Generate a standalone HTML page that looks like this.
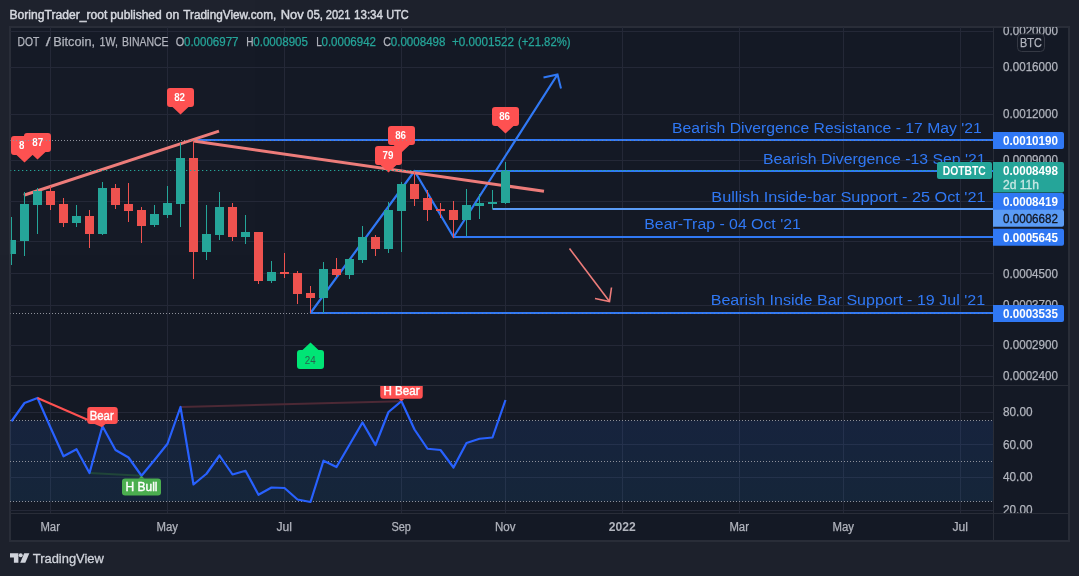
<!DOCTYPE html>
<html><head><meta charset="utf-8"><title>DOT / Bitcoin chart</title>
<style>html,body{margin:0;padding:0;background:#1e222d;}body{width:1079px;height:576px;overflow:hidden;font-family:"Liberation Sans",sans-serif;}svg{display:block;will-change:transform;opacity:0.999;}text{font-family:"Liberation Sans",sans-serif;}</style>
</head><body>
<svg width="1079" height="576" viewBox="0 0 1079 576">
<rect x="0" y="0" width="1079" height="576" fill="#1e222d"/>
<rect x="10" y="27" width="1059" height="514" fill="#151a26" stroke="#2a2e39" stroke-width="2"/>
<defs><clipPath id="cm"><rect x="10.5" y="28" width="983" height="357"/></clipPath><clipPath id="cr"><rect x="10.5" y="386" width="983" height="127"/></clipPath><clipPath id="ca"><rect x="993" y="27" width="75" height="486"/></clipPath></defs>
<line x1="50.5" y1="27" x2="50.5" y2="513" stroke="#252938" stroke-width="1"/>
<line x1="167.5" y1="27" x2="167.5" y2="513" stroke="#252938" stroke-width="1"/>
<line x1="284.5" y1="27" x2="284.5" y2="513" stroke="#252938" stroke-width="1"/>
<line x1="401.5" y1="27" x2="401.5" y2="513" stroke="#252938" stroke-width="1"/>
<line x1="505.5" y1="27" x2="505.5" y2="513" stroke="#252938" stroke-width="1"/>
<line x1="622.5" y1="27" x2="622.5" y2="513" stroke="#252938" stroke-width="1"/>
<line x1="739.5" y1="27" x2="739.5" y2="513" stroke="#252938" stroke-width="1"/>
<line x1="843.5" y1="27" x2="843.5" y2="513" stroke="#252938" stroke-width="1"/>
<line x1="960.5" y1="27" x2="960.5" y2="513" stroke="#252938" stroke-width="1"/>
<line x1="10" y1="31.5" x2="993.5" y2="31.5" stroke="#252938" stroke-width="1"/>
<line x1="10" y1="67.5" x2="993.5" y2="67.5" stroke="#252938" stroke-width="1"/>
<line x1="10" y1="114.5" x2="993.5" y2="114.5" stroke="#252938" stroke-width="1"/>
<line x1="10" y1="160.5" x2="993.5" y2="160.5" stroke="#252938" stroke-width="1"/>
<line x1="10" y1="201.5" x2="993.5" y2="201.5" stroke="#252938" stroke-width="1"/>
<line x1="10" y1="241.5" x2="993.5" y2="241.5" stroke="#252938" stroke-width="1"/>
<line x1="10" y1="273.5" x2="993.5" y2="273.5" stroke="#252938" stroke-width="1"/>
<line x1="10" y1="305.5" x2="993.5" y2="305.5" stroke="#252938" stroke-width="1"/>
<line x1="10" y1="345.5" x2="993.5" y2="345.5" stroke="#252938" stroke-width="1"/>
<line x1="10" y1="376.5" x2="993.5" y2="376.5" stroke="#252938" stroke-width="1"/>
<line x1="10" y1="412.5" x2="993.5" y2="412.5" stroke="#252938" stroke-width="1"/>
<line x1="10" y1="444.5" x2="993.5" y2="444.5" stroke="#252938" stroke-width="1"/>
<line x1="10" y1="477.5" x2="993.5" y2="477.5" stroke="#252938" stroke-width="1"/>
<line x1="10" y1="510.5" x2="993.5" y2="510.5" stroke="#252938" stroke-width="1"/>
<defs><linearGradient id="rb" x1="0" y1="0" x2="0" y2="1"><stop offset="0" stop-color="#2a6ef5" stop-opacity="0.118"/><stop offset="1" stop-color="#2196f3" stop-opacity="0.10"/></linearGradient></defs>
<rect x="10" y="420.5" width="983.5" height="81" fill="url(#rb)"/>
<line x1="10" y1="420.5" x2="993.5" y2="420.5" stroke="#8f929c" stroke-width="1" stroke-dasharray="1,2"/>
<line x1="10" y1="461.5" x2="993.5" y2="461.5" stroke="#8f929c" stroke-width="1" stroke-dasharray="1,2"/>
<line x1="10" y1="501.5" x2="993.5" y2="501.5" stroke="#8f929c" stroke-width="1" stroke-dasharray="1,2"/>
<line x1="10" y1="385.5" x2="1068" y2="385.5" stroke="#2a2e39" stroke-width="1"/>
<line x1="10" y1="513.5" x2="1068" y2="513.5" stroke="#2a2e39" stroke-width="1"/>
<line x1="993.5" y1="27" x2="993.5" y2="540" stroke="#2a2e39" stroke-width="1"/>
<g clip-path="url(#cm)">
<line x1="194" y1="140" x2="993.5" y2="140" stroke="#3179f5" stroke-width="2"/>
<line x1="414.5" y1="171" x2="993.5" y2="171" stroke="#3179f5" stroke-width="2"/>
<line x1="492.5" y1="209" x2="993.5" y2="209" stroke="#5b9cf6" stroke-width="2"/>
<line x1="453.5" y1="237" x2="993.5" y2="237" stroke="#3179f5" stroke-width="2"/>
<line x1="310.5" y1="313" x2="993.5" y2="313" stroke="#3179f5" stroke-width="2"/>
<polyline points="310.5,313 414.5,171 453.5,237 557.5,74.5" fill="none" stroke="#3179f5" stroke-width="2.2" stroke-linejoin="round"/>
<polyline points="543.5,77.5 557.5,74.5 561,88.5" fill="none" stroke="#3179f5" stroke-width="2" stroke-linejoin="miter"/>
<line x1="23.8" y1="195.2" x2="219" y2="131.1" stroke="#ee7d7b" stroke-width="3"/>
<line x1="193.5" y1="141" x2="544" y2="191.3" stroke="#ee7d7b" stroke-width="3"/>
<line x1="569.5" y1="248.5" x2="609.5" y2="301.5" stroke="#ee7d7b" stroke-width="1.6"/>
<polyline points="595,298.5 609.5,301.5 611.5,287.5" fill="none" stroke="#ee7d7b" stroke-width="1.6"/>
<rect x="11.0" y="217" width="1" height="48" fill="#26a69a"/>
<rect x="7.0" y="240" width="9" height="14" fill="#26a69a"/>
<rect x="24.0" y="192" width="1" height="64" fill="#26a69a"/>
<rect x="20.0" y="204" width="9" height="37" fill="#26a69a"/>
<rect x="37.0" y="188" width="1" height="46" fill="#26a69a"/>
<rect x="33.0" y="191" width="9" height="14" fill="#26a69a"/>
<rect x="50.0" y="186" width="1" height="24" fill="#ef5350"/>
<rect x="46.0" y="191" width="9" height="14" fill="#ef5350"/>
<rect x="63.0" y="198" width="1" height="29" fill="#ef5350"/>
<rect x="59.0" y="204" width="9" height="19" fill="#ef5350"/>
<rect x="76.0" y="205" width="1" height="22" fill="#26a69a"/>
<rect x="72.0" y="216" width="9" height="7" fill="#26a69a"/>
<rect x="89.0" y="210" width="1" height="38" fill="#ef5350"/>
<rect x="85.0" y="216" width="9" height="18" fill="#ef5350"/>
<rect x="102.0" y="182" width="1" height="53" fill="#26a69a"/>
<rect x="98.0" y="188" width="9" height="46" fill="#26a69a"/>
<rect x="115.0" y="184" width="1" height="25" fill="#ef5350"/>
<rect x="111.0" y="188" width="9" height="17" fill="#ef5350"/>
<rect x="128.0" y="183" width="1" height="39" fill="#ef5350"/>
<rect x="124.0" y="204" width="9" height="7" fill="#ef5350"/>
<rect x="141.0" y="207" width="1" height="36" fill="#ef5350"/>
<rect x="137.0" y="210" width="9" height="16" fill="#ef5350"/>
<rect x="154.0" y="205" width="1" height="22" fill="#26a69a"/>
<rect x="150.0" y="214" width="9" height="11" fill="#26a69a"/>
<rect x="167.0" y="186" width="1" height="32" fill="#26a69a"/>
<rect x="163.0" y="203" width="9" height="12" fill="#26a69a"/>
<rect x="180.0" y="143" width="1" height="84" fill="#26a69a"/>
<rect x="176.0" y="158" width="9" height="46" fill="#26a69a"/>
<rect x="193.0" y="141" width="1" height="138" fill="#ef5350"/>
<rect x="189.0" y="158" width="9" height="94" fill="#ef5350"/>
<rect x="206.0" y="205" width="1" height="55" fill="#26a69a"/>
<rect x="202.0" y="234" width="9" height="18" fill="#26a69a"/>
<rect x="219.0" y="192" width="1" height="48" fill="#26a69a"/>
<rect x="215.0" y="207" width="9" height="28" fill="#26a69a"/>
<rect x="232.0" y="203" width="1" height="38" fill="#ef5350"/>
<rect x="228.0" y="207" width="9" height="30" fill="#ef5350"/>
<rect x="245.0" y="215" width="1" height="29" fill="#26a69a"/>
<rect x="241.0" y="232" width="9" height="5" fill="#26a69a"/>
<rect x="258.0" y="232" width="1" height="52" fill="#ef5350"/>
<rect x="254.0" y="232" width="9" height="49" fill="#ef5350"/>
<rect x="271.0" y="261" width="1" height="22" fill="#26a69a"/>
<rect x="267.0" y="272" width="9" height="9" fill="#26a69a"/>
<rect x="284.0" y="253" width="1" height="25" fill="#ef5350"/>
<rect x="280.0" y="272" width="9" height="2" fill="#ef5350"/>
<rect x="297.0" y="271" width="1" height="33" fill="#ef5350"/>
<rect x="293.0" y="273" width="9" height="21" fill="#ef5350"/>
<rect x="310.0" y="286" width="1" height="27" fill="#ef5350"/>
<rect x="306.0" y="293" width="9" height="5" fill="#ef5350"/>
<rect x="323.0" y="262" width="1" height="51" fill="#26a69a"/>
<rect x="319.0" y="269" width="9" height="29" fill="#26a69a"/>
<rect x="336.0" y="258" width="1" height="19" fill="#ef5350"/>
<rect x="332.0" y="269" width="9" height="6" fill="#ef5350"/>
<rect x="349.0" y="258" width="1" height="21" fill="#26a69a"/>
<rect x="345.0" y="259" width="9" height="16" fill="#26a69a"/>
<rect x="362.0" y="226" width="1" height="37" fill="#26a69a"/>
<rect x="358.0" y="237" width="9" height="23" fill="#26a69a"/>
<rect x="375.0" y="235" width="1" height="21" fill="#ef5350"/>
<rect x="371.0" y="237" width="9" height="12" fill="#ef5350"/>
<rect x="388.0" y="202" width="1" height="51" fill="#26a69a"/>
<rect x="384.0" y="210" width="9" height="39" fill="#26a69a"/>
<rect x="401.0" y="182" width="1" height="70" fill="#26a69a"/>
<rect x="397.0" y="184" width="9" height="27" fill="#26a69a"/>
<rect x="414.0" y="172" width="1" height="34" fill="#ef5350"/>
<rect x="410.0" y="184" width="9" height="15" fill="#ef5350"/>
<rect x="427.0" y="190" width="1" height="31" fill="#ef5350"/>
<rect x="423.0" y="198" width="9" height="12" fill="#ef5350"/>
<rect x="440.0" y="203" width="1" height="15" fill="#ef5350"/>
<rect x="436.0" y="209" width="9" height="2" fill="#ef5350"/>
<rect x="453.0" y="201" width="1" height="37" fill="#ef5350"/>
<rect x="449.0" y="210" width="9" height="10" fill="#ef5350"/>
<rect x="466.0" y="189" width="1" height="47" fill="#26a69a"/>
<rect x="462.0" y="205" width="9" height="15" fill="#26a69a"/>
<rect x="479.0" y="194" width="1" height="25" fill="#26a69a"/>
<rect x="475.0" y="203" width="9" height="3" fill="#26a69a"/>
<rect x="492.0" y="190" width="1" height="19" fill="#26a69a"/>
<rect x="488.0" y="202" width="9" height="2" fill="#26a69a"/>
<rect x="505.0" y="162" width="1" height="42" fill="#26a69a"/>
<rect x="501.0" y="171" width="9" height="32" fill="#26a69a"/>
<path d="M14.0 136 h21 a3 3 0 0 1 3 3 v13 a3 3 0 0 1 -3 3 h-2.5 l-8 7.5 l-8 -7.5 h-2.5 a3 3 0 0 1 -3 -3 v-13 a3 3 0 0 1 3 -3 z" fill="#ff5252"/>
<text x="18.95" y="149.1" font-size="10.6" font-weight="700" fill="#ffffff" textLength="10.9" lengthAdjust="spacingAndGlyphs">86</text>
<path d="M27.0 133 h21 a3 3 0 0 1 3 3 v13 a3 3 0 0 1 -3 3 h-2.5 l-8 7.5 l-8 -7.5 h-2.5 a3 3 0 0 1 -3 -3 v-13 a3 3 0 0 1 3 -3 z" fill="#ff5252"/>
<text x="32.25" y="146.1" font-size="10.6" font-weight="700" fill="#ffffff" textLength="10.9" lengthAdjust="spacingAndGlyphs">87</text>
<path d="M170.0 88 h21 a3 3 0 0 1 3 3 v13 a3 3 0 0 1 -3 3 h-2.5 l-8 7.5 l-8 -7.5 h-2.5 a3 3 0 0 1 -3 -3 v-13 a3 3 0 0 1 3 -3 z" fill="#ff5252"/>
<text x="174.15" y="101.1" font-size="10.6" font-weight="700" fill="#ffffff" textLength="10.9" lengthAdjust="spacingAndGlyphs">82</text>
<path d="M391.0 126 h21 a3 3 0 0 1 3 3 v13 a3 3 0 0 1 -3 3 h-2.5 l-8 7.5 l-8 -7.5 h-2.5 a3 3 0 0 1 -3 -3 v-13 a3 3 0 0 1 3 -3 z" fill="#ff5252"/>
<text x="395.15000000000003" y="139.1" font-size="10.6" font-weight="700" fill="#ffffff" textLength="10.9" lengthAdjust="spacingAndGlyphs">86</text>
<path d="M378.0 146 h21 a3 3 0 0 1 3 3 v13 a3 3 0 0 1 -3 3 h-2.5 l-8 7.5 l-8 -7.5 h-2.5 a3 3 0 0 1 -3 -3 v-13 a3 3 0 0 1 3 -3 z" fill="#ff5252"/>
<text x="382.55" y="159.1" font-size="10.6" font-weight="700" fill="#ffffff" textLength="10.9" lengthAdjust="spacingAndGlyphs">79</text>
<path d="M495.0 107 h21 a3 3 0 0 1 3 3 v13 a3 3 0 0 1 -3 3 h-2.5 l-8 7.5 l-8 -7.5 h-2.5 a3 3 0 0 1 -3 -3 v-13 a3 3 0 0 1 3 -3 z" fill="#ff5252"/>
<text x="499.15000000000003" y="120.1" font-size="10.6" font-weight="700" fill="#ffffff" textLength="10.9" lengthAdjust="spacingAndGlyphs">86</text>
<path d="M300.0 350 h2.5 l8 -7.5 l8 7.5 h2.5 a3 3 0 0 1 3 3 v13 a3 3 0 0 1 -3 3 h-21 a3 3 0 0 1 -3 -3 v-13 a3 3 0 0 1 3 -3 z" fill="#00e676"/>
<text x="304.75" y="364.0" font-size="10.6" font-weight="400" fill="#2a6450" textLength="10.9" lengthAdjust="spacingAndGlyphs">24</text>
<line x1="10" y1="140.5" x2="194" y2="140.5" stroke="#8f929c" stroke-width="1" stroke-dasharray="1,2"/>
<line x1="194" y1="140.5" x2="993.5" y2="140.5" stroke="#8f929c" stroke-opacity="0.6" stroke-width="1" stroke-dasharray="1,3"/>
<line x1="10" y1="313.5" x2="310" y2="313.5" stroke="#8f929c" stroke-width="1" stroke-dasharray="1,2"/>
<line x1="310" y1="313.5" x2="993.5" y2="313.5" stroke="#8f929c" stroke-opacity="0.5" stroke-width="1" stroke-dasharray="1,3"/>
<line x1="10" y1="170.5" x2="993.5" y2="170.5" stroke="#26a69a" stroke-width="1" stroke-dasharray="1.3,2.7"/>
<text x="672" y="132.7" font-size="14" fill="#3179f5" textLength="309.70000000000005" lengthAdjust="spacingAndGlyphs">Bearish Divergence Resistance - 17 May '21</text>
<text x="763" y="163.7" font-size="14" fill="#3179f5" textLength="222.5" lengthAdjust="spacingAndGlyphs">Bearish Divergence -13 Sep '21</text>
<text x="711.3" y="202.2" font-size="14" fill="#3179f5" textLength="274.20000000000005" lengthAdjust="spacingAndGlyphs">Bullish Inside-bar Support - 25 Oct '21</text>
<text x="644.3" y="229.1" font-size="14" fill="#3179f5" textLength="156.5" lengthAdjust="spacingAndGlyphs">Bear-Trap - 04 Oct '21</text>
<text x="710.7" y="305" font-size="14" fill="#3179f5" textLength="274.5" lengthAdjust="spacingAndGlyphs">Bearish Inside Bar Support - 19 Jul '21</text>
</g>
<g clip-path="url(#cr)">
<line x1="180.5" y1="407" x2="401.5" y2="401.2" stroke="#4d2a36" stroke-width="2"/>
<line x1="89.5" y1="473" x2="141.5" y2="475.75" stroke="#21463a" stroke-width="2"/>
<polyline points="11.5,421.25 24.5,403 37.5,398 50.5,427.5 63.5,456.25 76.5,449.25 89.5,473 102.5,426.25 115.5,450 128.5,457.5 141.5,475.75 154.5,460 167.5,443.75 180.5,407 193.5,484.5 206.5,473.75 219.5,455.5 232.5,474.5 245.5,470.75 258.5,494.75 271.5,487.5 284.5,488 297.5,499.5 310.5,502 323.5,460.75 336.5,467 349.5,444.75 362.5,422.5 375.5,445 388.5,412 401.5,401.2 414.5,429.5 427.5,448.75 440.5,450 453.5,467.5 466.5,443 479.5,438.75 492.5,437.5 505.5,400" fill="none" stroke="#2962ff" stroke-width="2.2" stroke-linejoin="round"/>
<line x1="37.5" y1="398" x2="102.5" y2="426.25" stroke="#ff5252" stroke-width="2"/>
<rect x="87.25" y="407" width="30.5" height="17" rx="3" fill="#ff5252"/>
<path d="M99.5 424 l3 2.5 l3 -2.5 z" fill="#ff5252"/>
<text x="101.7" y="419.7" font-size="12" font-weight="400" fill="#ffffff" stroke="#ffffff" stroke-width="0.4" text-anchor="middle" textLength="24" lengthAdjust="spacingAndGlyphs">Bear</text>
<rect x="122.0" y="478.5" width="39" height="17" rx="3" fill="#4caf50"/>
<path d="M138.5 478.5 l3 -2.5 l3 2.5 z" fill="#4caf50"/>
<text x="141.5" y="491.2" font-size="12" font-weight="400" fill="#ffffff" stroke="#ffffff" stroke-width="0.4" text-anchor="middle" textLength="32" lengthAdjust="spacingAndGlyphs">H Bull</text>
<rect x="380.25" y="381.8" width="42.5" height="17" rx="3" fill="#ff5252"/>
<path d="M398.5 398.8 l3 2.5 l3 -2.5 z" fill="#ff5252"/>
<text x="401.5" y="394.5" font-size="12" font-weight="400" fill="#ffffff" stroke="#ffffff" stroke-width="0.4" text-anchor="middle" textLength="36" lengthAdjust="spacingAndGlyphs">H Bear</text>
</g>
<g clip-path="url(#ca)">
<text x="1003" y="35.1" font-size="12" fill="#b2b5be" stroke="#b2b5be" stroke-width="0.25" textLength="55" lengthAdjust="spacingAndGlyphs">0.0020000</text>
<text x="1003" y="70.8" font-size="12" fill="#b2b5be" stroke="#b2b5be" stroke-width="0.25" textLength="55" lengthAdjust="spacingAndGlyphs">0.0016000</text>
<text x="1003" y="117.8" font-size="12" fill="#b2b5be" stroke="#b2b5be" stroke-width="0.25" textLength="55" lengthAdjust="spacingAndGlyphs">0.0012000</text>
<text x="1003" y="163.8" font-size="12" fill="#b2b5be" stroke="#b2b5be" stroke-width="0.25" textLength="55" lengthAdjust="spacingAndGlyphs">0.0009000</text>
<text x="1003" y="277.8" font-size="12" fill="#b2b5be" stroke="#b2b5be" stroke-width="0.25" textLength="55" lengthAdjust="spacingAndGlyphs">0.0004500</text>
<text x="1003" y="309.3" font-size="12" fill="#b2b5be" stroke="#b2b5be" stroke-width="0.25" textLength="55" lengthAdjust="spacingAndGlyphs">0.0003700</text>
<text x="1003" y="349.3" font-size="12" fill="#b2b5be" stroke="#b2b5be" stroke-width="0.25" textLength="55" lengthAdjust="spacingAndGlyphs">0.0002900</text>
<text x="1003" y="379.8" font-size="12" fill="#b2b5be" stroke="#b2b5be" stroke-width="0.25" textLength="55" lengthAdjust="spacingAndGlyphs">0.0002400</text>
<text x="1003" y="416.3" font-size="12" fill="#b2b5be" stroke="#b2b5be" stroke-width="0.25" textLength="29.5" lengthAdjust="spacingAndGlyphs">80.00</text>
<text x="1003" y="448.8" font-size="12" fill="#b2b5be" stroke="#b2b5be" stroke-width="0.25" textLength="29.5" lengthAdjust="spacingAndGlyphs">60.00</text>
<text x="1003" y="481.3" font-size="12" fill="#b2b5be" stroke="#b2b5be" stroke-width="0.25" textLength="29.5" lengthAdjust="spacingAndGlyphs">40.00</text>
<text x="1003" y="513.8" font-size="12" fill="#b2b5be" stroke="#b2b5be" stroke-width="0.25" textLength="29.5" lengthAdjust="spacingAndGlyphs">20.00</text>
<rect x="1017.5" y="34" width="27" height="17.5" rx="4" fill="#151a26" stroke="#363a45" stroke-width="1"/>
<text x="1020.1" y="46.7" font-size="12" fill="#b2b5be" stroke="#b2b5be" stroke-width="0.25" textLength="21.7" lengthAdjust="spacingAndGlyphs">BTC</text>
<path d="M993 132.0 h69 a2 2 0 0 1 2 2 v13 a2 2 0 0 1 -2 2 h-69 z" fill="#3179f5"/>
<text x="1003" y="144.8" font-size="12" font-weight="700" fill="#ffffff" stroke="#ffffff" stroke-width="0" textLength="55" lengthAdjust="spacingAndGlyphs">0.0010190</text>
<path d="M993 162 h69 a2 2 0 0 1 2 2 v26.5 a2 2 0 0 1 -2 2 h-69 z" fill="#26a69a"/>
<text x="1003" y="174.8" font-size="12" font-weight="700" fill="#ffffff" textLength="55" lengthAdjust="spacingAndGlyphs">0.0008498</text>
<text x="1003" y="188.8" font-size="12" fill="#c9e9e5" stroke="#c9e9e5" stroke-width="0.3" textLength="36" lengthAdjust="spacingAndGlyphs">2d 11h</text>
<path d="M993 193.0 h69 a2 2 0 0 1 2 2 v13 a2 2 0 0 1 -2 2 h-69 z" fill="#3179f5"/>
<text x="1003" y="205.8" font-size="12" font-weight="700" fill="#ffffff" stroke="#ffffff" stroke-width="0" textLength="55" lengthAdjust="spacingAndGlyphs">0.0008419</text>
<path d="M993 209.75 h69 a2 2 0 0 1 2 2 v13 a2 2 0 0 1 -2 2 h-69 z" fill="#5b9cf6"/>
<text x="1003" y="222.55" font-size="12" font-weight="400" fill="#131722" stroke="#131722" stroke-width="0.3" textLength="55" lengthAdjust="spacingAndGlyphs">0.0006682</text>
<path d="M993 228.75 h69 a2 2 0 0 1 2 2 v13 a2 2 0 0 1 -2 2 h-69 z" fill="#3179f5"/>
<text x="1003" y="241.55" font-size="12" font-weight="700" fill="#ffffff" stroke="#ffffff" stroke-width="0" textLength="55" lengthAdjust="spacingAndGlyphs">0.0005645</text>
<path d="M993 305.0 h69 a2 2 0 0 1 2 2 v13 a2 2 0 0 1 -2 2 h-69 z" fill="#3179f5"/>
<text x="1003" y="317.8" font-size="12" font-weight="700" fill="#ffffff" stroke="#ffffff" stroke-width="0" textLength="55" lengthAdjust="spacingAndGlyphs">0.0003535</text>
</g>
<rect x="937" y="162" width="55" height="17" rx="2" fill="#26a69a"/>
<text x="964.25" y="174.8" font-size="12" font-weight="700" fill="#ffffff" text-anchor="middle" textLength="43" lengthAdjust="spacingAndGlyphs">DOTBTC</text>
<text x="40.45" y="531.3" font-size="12" font-weight="400" fill="#b2b5be" stroke="#b2b5be" stroke-width="0.25" textLength="19.5" lengthAdjust="spacingAndGlyphs">Mar</text>
<text x="156.45" y="531.3" font-size="12" font-weight="400" fill="#b2b5be" stroke="#b2b5be" stroke-width="0.25" textLength="21.5" lengthAdjust="spacingAndGlyphs">May</text>
<text x="276.45" y="531.3" font-size="12" font-weight="400" fill="#b2b5be" stroke="#b2b5be" stroke-width="0.25" textLength="15.5" lengthAdjust="spacingAndGlyphs">Jul</text>
<text x="391.45" y="531.3" font-size="12" font-weight="400" fill="#b2b5be" stroke="#b2b5be" stroke-width="0.25" textLength="19.5" lengthAdjust="spacingAndGlyphs">Sep</text>
<text x="494.95" y="531.3" font-size="12" font-weight="400" fill="#b2b5be" stroke="#b2b5be" stroke-width="0.25" textLength="20.5" lengthAdjust="spacingAndGlyphs">Nov</text>
<text x="608.7" y="531.3" font-size="12" font-weight="700" fill="#b2b5be" stroke="#b2b5be" stroke-width="0" textLength="27" lengthAdjust="spacingAndGlyphs">2022</text>
<text x="729.45" y="531.3" font-size="12" font-weight="400" fill="#b2b5be" stroke="#b2b5be" stroke-width="0.25" textLength="19.5" lengthAdjust="spacingAndGlyphs">Mar</text>
<text x="832.45" y="531.3" font-size="12" font-weight="400" fill="#b2b5be" stroke="#b2b5be" stroke-width="0.25" textLength="21.5" lengthAdjust="spacingAndGlyphs">May</text>
<text x="952.45" y="531.3" font-size="12" font-weight="400" fill="#b2b5be" stroke="#b2b5be" stroke-width="0.25" textLength="15.5" lengthAdjust="spacingAndGlyphs">Jul</text>
<text x="9.5" y="19" font-size="12" font-weight="400" fill="#d6d9e0" stroke="#d6d9e0" stroke-width="0.45" textLength="97.75" lengthAdjust="spacingAndGlyphs">BoringTrader_root</text>
<text x="110.25" y="19" font-size="12" font-weight="400" fill="#d6d9e0" stroke="#d6d9e0" stroke-width="0.45" textLength="51.5" lengthAdjust="spacingAndGlyphs">published</text>
<text x="165.75" y="19" font-size="12" font-weight="400" fill="#d6d9e0" stroke="#d6d9e0" stroke-width="0.45" textLength="13.5" lengthAdjust="spacingAndGlyphs">on</text>
<text x="183.25" y="19" font-size="12" font-weight="400" fill="#d6d9e0" stroke="#d6d9e0" stroke-width="0.45" textLength="93.0" lengthAdjust="spacingAndGlyphs">TradingView.com,</text>
<text x="280.75" y="19" font-size="12" font-weight="400" fill="#d6d9e0" stroke="#d6d9e0" stroke-width="0.45" textLength="23.0" lengthAdjust="spacingAndGlyphs">Nov</text>
<text x="307.0" y="19" font-size="12" font-weight="400" fill="#d6d9e0" stroke="#d6d9e0" stroke-width="0.45" textLength="16.0" lengthAdjust="spacingAndGlyphs">05,</text>
<text x="325.75" y="19" font-size="12" font-weight="400" fill="#d6d9e0" stroke="#d6d9e0" stroke-width="0.45" textLength="24.75" lengthAdjust="spacingAndGlyphs">2021</text>
<text x="354.0" y="19" font-size="12" font-weight="400" fill="#d6d9e0" stroke="#d6d9e0" stroke-width="0.45" textLength="29.0" lengthAdjust="spacingAndGlyphs">13:34</text>
<text x="386.25" y="19" font-size="12" font-weight="400" fill="#d6d9e0" stroke="#d6d9e0" stroke-width="0.45" textLength="22.5" lengthAdjust="spacingAndGlyphs">UTC</text>
<text x="17.5" y="45.7" font-size="12" font-weight="400" fill="#b2b5be" stroke="#b2b5be" stroke-width="0.25" textLength="21.75" lengthAdjust="spacingAndGlyphs">DOT</text>
<text x="45.75" y="45.7" font-size="12" font-weight="400" fill="#b2b5be" stroke="#b2b5be" stroke-width="0.25" textLength="4.75" lengthAdjust="spacingAndGlyphs">/</text>
<text x="53.25" y="45.7" font-size="12" font-weight="400" fill="#b2b5be" stroke="#b2b5be" stroke-width="0.25" textLength="41.75" lengthAdjust="spacingAndGlyphs">Bitcoin,</text>
<text x="99.5" y="45.7" font-size="12" font-weight="400" fill="#b2b5be" stroke="#b2b5be" stroke-width="0.25" textLength="18.5" lengthAdjust="spacingAndGlyphs">1W,</text>
<text x="122.0" y="45.7" font-size="12" font-weight="400" fill="#b2b5be" stroke="#b2b5be" stroke-width="0.25" textLength="46.5" lengthAdjust="spacingAndGlyphs">BINANCE</text>
<text x="175.75" y="45.7" font-size="12" font-weight="400" fill="#b2b5be" stroke="#b2b5be" stroke-width="0.25" textLength="8.5" lengthAdjust="spacingAndGlyphs">O</text>
<text x="246.25" y="45.7" font-size="12" font-weight="400" fill="#b2b5be" stroke="#b2b5be" stroke-width="0.25" textLength="7.25" lengthAdjust="spacingAndGlyphs">H</text>
<text x="316.25" y="45.7" font-size="12" font-weight="400" fill="#b2b5be" stroke="#b2b5be" stroke-width="0.25" textLength="5.5" lengthAdjust="spacingAndGlyphs">L</text>
<text x="383.25" y="45.7" font-size="12" font-weight="400" fill="#b2b5be" stroke="#b2b5be" stroke-width="0.25" textLength="7.75" lengthAdjust="spacingAndGlyphs">C</text>
<text x="184.0" y="45.7" font-size="12" font-weight="400" fill="#26a69a" stroke="#26a69a" stroke-width="0.25" textLength="54.5" lengthAdjust="spacingAndGlyphs">0.0006977</text>
<text x="253.25" y="45.7" font-size="12" font-weight="400" fill="#26a69a" stroke="#26a69a" stroke-width="0.25" textLength="54.75" lengthAdjust="spacingAndGlyphs">0.0008905</text>
<text x="321.5" y="45.7" font-size="12" font-weight="400" fill="#26a69a" stroke="#26a69a" stroke-width="0.25" textLength="54.5" lengthAdjust="spacingAndGlyphs">0.0006942</text>
<text x="390.75" y="45.7" font-size="12" font-weight="400" fill="#26a69a" stroke="#26a69a" stroke-width="0.25" textLength="54.75" lengthAdjust="spacingAndGlyphs">0.0008498</text>
<text x="452.0" y="45.7" font-size="12" font-weight="400" fill="#26a69a" stroke="#26a69a" stroke-width="0.25" textLength="62.0" lengthAdjust="spacingAndGlyphs">+0.0001522</text>
<text x="518.0" y="45.7" font-size="12" font-weight="400" fill="#26a69a" stroke="#26a69a" stroke-width="0.25" textLength="52.5" lengthAdjust="spacingAndGlyphs">(+21.82%)</text>
<g fill="#d1d4dc">
<path d="M10 553.2 h8.4 v9.5 h-4.5 v-5.2 h-3.9 z"/>
<circle cx="20.7" cy="555.2" r="2"/>
<path d="M24.2 553.2 h5.2 l-4.1 9.5 h-5.1 z"/>
<text x="32.8" y="562.7" font-size="13" stroke="#d1d4dc" stroke-width="0.3" textLength="71" lengthAdjust="spacingAndGlyphs">TradingView</text>
</g>
</svg>
</body></html>
